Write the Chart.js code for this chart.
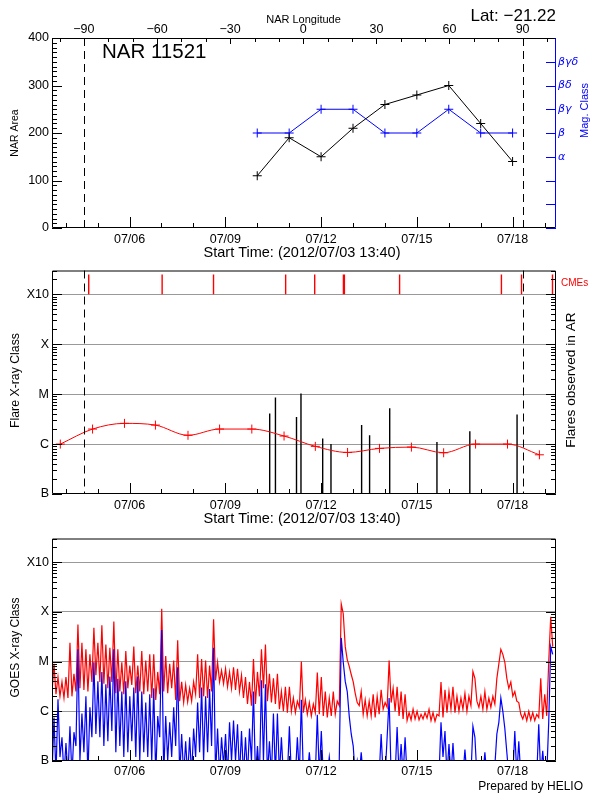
<!DOCTYPE html>
<html lang="en">
<head>
<meta charset="UTF-8">
<title>NAR 11521</title>
<script src="https://cdn.jsdelivr.net/npm/chart.js"></script>
<style>
  body { margin: 0; background: #fff; }
  #wrap { position: relative; width: 600px; height: 800px; }
  canvas { position: absolute; left: 0; }
</style>
</head>
<body>
<div id="wrap">
  <canvas id="narChart" width="600" height="262" style="top:0px"></canvas>
  <canvas id="flareChart" width="600" height="268" style="top:260px"></canvas>
  <canvas id="goesChart" width="600" height="272" style="top:528px"></canvas>
</div>
<script>
// time axis in days of July 2012 (UT)
const startDay = 3 + 13 / 24 + 40 / 1440;   // 2012/07/03 13:40
const endDay = 19.36;
const labelDays = [6, 9, 12, 15, 18];
const lonMin = -103.1, lonMax = 103.7;
const lonLabels = [-90, -60, -30, 0, 30, 60, 90];
const limbLon = [-90, 90];

// NOAA active region summary
const narDays = [10, 11, 12, 13, 14, 15, 16, 17, 18];
const narArea = [110, 190, 150, 210, 260, 280, 300, 220, 140];
const narMag = [4, 4, 5, 5, 4, 4, 5, 4, 4];
const magLabels = ['', '', '', 'α', 'β', 'βγ', 'βδ', 'βγδ', ''];

// flare classes (values in units of C = 1e-6 W/m2)
const classLevels = [1e-7, 1e-6, 1e-5, 1e-4, 1e-3];
const classNames = ['B', 'C', 'M', 'X', 'X10'];
const avgDays = [3.83, 4.84, 5.84, 6.81, 7.83, 8.82, 9.83, 10.84, 11.82, 12.83, 13.83, 14.83, 15.84, 16.84, 17.84, 18.84];
const avgClass = [1.0, 2.0, 2.6, 2.4, 1.5, 2.0, 2.0, 1.45, 0.9, 0.68, 0.82, 0.87, 0.67, 1.0, 1.0, 0.61];
const flareDays = [10.39, 10.57, 11.23, 11.37, 12.03, 12.05, 12.31, 13.27, 13.52, 14.15, 15.63, 16.66, 18.14];
const flarePeak = [4.1, 8.6, 3.5, 10.3, 0.13, 1.3, 1.0, 2.4, 1.5, 5.2, 1.1, 1.8, 3.9];
const cmeDays = [4.72, 7.02, 8.63, 10.89, 11.8, 12.7, 12.73, 14.46, 17.65, 18.28, 19.25];

// GOES X-ray flux, 1.5 h samples from startDay (units of C)
const goesStep = 1 / 16;
const goesLong = [
  2.3,9.0, 2.2,4.9, 2.0,3.9, 1.85,4.9, 1.85,24, 2.0,5.7, 2.5,56, 2.9,24, 2.7,17.7, 2.5,14,
  3.9,48, 5.3,24, 3.9,54, 3.6,22, 2.9,19, 3.9,64, 2.3,17.7, 2.5,9.7, 2.2,16.4, 2.9,8.3,
  3.4,20, 2.3,8.3, 2.5,16.4, 2.2,10.5, 2.5,14, 1.85,14, 1.7,6.2, 2.2,116, 2.5,13, 2.3,9.0,
  2.9,10.5, 1.7,27, 1.6,3.9, 1.5,3.4, 1.55,2.9, 1.6,3.9, 2.2,14, 1.85,11.3, 2.0,10.5, 1.85,8.3,
  2.5,71, 4.2,9.7, 3.9,6.6, 3.6,7.2, 3.1,6.2, 2.9,7.7, 2.7,7.2, 2.5,5.3, 1.85,4.9, 1.4,3.9,
  1.3,11.3, 1.4,6.2, 2.0,17.7, 2.9,22, 1.6,5.7, 1.5,4.6, 1.4,5.7, 1.1,2.5, 1.0,3.1, 0.94,3.1,
  1.0,1.85, 0.94,1.6, 1.2,10, 0.94,1.7, 0.87,1.5, 0.81,1.4, 0.94,6.0, 0.87,4.9, 0.81,2.5, 0.75,1.85,
  0.81,2.5, 0.87,1.6, 1.3,145, 92,20, 11,8.0, 5.5,3.9, 2.3,1.5, 1.3,2.5, 0.87,1.7, 0.81,1.6,
  0.81,2.2, 0.75,2.0, 0.87,2.7, 1.1,1.5, 1.2,10.5, 1.5,2.9, 1.0,3.1, 0.81,2.5, 0.7,2.2, 0.65,0.94,
  0.67,1.1, 0.7,1.0, 0.67,0.87, 0.7,0.94, 0.73,1.1, 0.65,0.94, 0.63,0.87, 0.81,3.9, 0.75,2.7, 0.94,2.5,
  1.1,3.1, 0.94,2.0, 1.0,1.85, 1.1,2.3, 1.0,2.0, 1.3,6.3, 4.6,1.6, 1.2,2.0, 1.1,2.5, 1.1,1.85,
  1.2,2.0, 1.4,4.6, 9.0,17.7, 14,9.7, 4.6,2.9, 3.9,2.0, 2.5,1.6, 1.5,0.87, 0.7,0.94, 0.65,1.0,
  0.67,0.94, 0.65,0.87, 0.75,4.6, 0.7,2.2, 0.81,9.7, 80,20
];
const goesShort = [
  0.05,0.75, 0.05,1.75, 0.12,0.3, 0.05,0.23, 0.05,0.5, 0.05,0.38, 0.2,17.7, 0.1,0.9, 0.15,2.0, 0.05,1.2,
  0.3,9.7, 0.35,4.0, 0.3,6.2, 0.2,3.5, 0.25,5.0, 0.4,17.7, 0.15,4.5, 0.2,2.5, 0.12,4.0, 0.15,2.0,
  0.25,3.0, 0.12,5.0, 0.1,2.5, 0.15,1.5, 0.12,2.2, 0.1,2.9, 0.05,0.8, 0.3,43, 0.05,0.8, 0.1,0.6,
  0.12,1.2, 0.2,7.7, 0.05,0.35, 0.05,0.25, 0.05,0.3, 0.05,0.45, 0.12,1.5, 0.15,3.0, 0.1,2.0, 0.15,2.8,
  0.2,19, 0.05,0.45, 0.05,0.3, 0.08,0.35, 0.05,0.6, 0.1,0.65, 0.1,0.55, 0.05,0.4, 0.05,0.3, 0.05,0.45,
  0.1,2.5, 0.05,0.2, 0.05,4.2, 0.1,3.5, 0.05,0.25, 0.05,0.9, 0.05,0.9, 0.05,0.3, 0.05,0.05, 0.05,0.5,
  0.05,0.05, 0.05,0.3, 0.05,1.7, 0.05,0.05, 0.05,0.15, 0.05,0.05, 0.05,0.85, 0.05,0.4, 0.05,0.05, 0.05,0.12,
  0.05,0.05, 0.05,0.05, 0.1,30, 9.7,4.0, 2.5,0.8, 0.35,0.2, 0.05,0.1, 0.05,0.15, 0.05,0.05, 0.05,0.05,
  0.05,0.05, 0.05,0.05, 0.05,0.35, 0.05,0.05, 0.3,1.85, 0.05,0.05, 0.05,0.48, 0.05,0.22, 0.05,0.3, 0.05,0.05,
  0.05,0.05, 0.05,0.05, 0.05,0.05, 0.05,0.05, 0.05,0.05, 0.05,0.05, 0.05,0.05, 0.05,0.6, 0.12,0.4, 0.05,0.22,
  0.05,0.23, 0.05,0.05, 0.05,0.05, 0.05,0.17, 0.05,0.05, 0.05,0.5, 0.3,0.05, 0.05,0.05, 0.05,0.15, 0.05,0.05,
  0.05,0.05, 0.08,0.35, 0.6,1.85, 1.0,0.45, 0.15,0.05, 0.05,0.05, 0.4,0.05, 0.25,0.05, 0.05,0.05, 0.05,0.05,
  0.05,0.05, 0.05,0.05, 0.55,0.05, 0.16,0.05, 0.05,0.6, 20,14
];

const C = 1e-6;
const F = "'Liberation Sans', Arial, sans-serif";
const tickFont = { family: F, size: 12.5 };
const red = '#ff0000', blue = '#0000ff';

const lonToDay = lon => startDay + (lon - lonMin) / (lonMax - lonMin) * (endDay - startDay);
const limbDays = limbLon.map(lonToDay);

// inward tick marks
const dayMarks = [];
for (let d = Math.ceil(startDay); d <= endDay; d++) dayMarks.push({ v: d, major: d % 3 === 0 });
const areaMarks = [];
for (let v = 0; v <= 400; v += 10) areaMarks.push({ v, major: v % 100 === 0 });
const lonMarks = [];
for (let v = -100; v <= 100; v += 10) lonMarks.push({ v, major: v % 30 === 0 });
const magMarks = [];
for (let v = 0; v <= 8; v++) magMarks.push({ v, major: true });
const logMarks = [];
for (let e = -7; e <= -3; e++) for (let m = 1; m <= 9; m++) if (m * Math.pow(10, e) <= 3e-3) logMarks.push({ v: m * Math.pow(10, e), major: m === 1 });

function decor(id, cfg) {
  return {
    id,
    afterDatasetsDraw(chart) {
      const ctx = chart.ctx, a = chart.chartArea;
      ctx.save();
      ctx.lineWidth = 1;
      if (cfg.limbs) {
        ctx.strokeStyle = '#000';
        ctx.setLineDash([8, 5]);
        cfg.limbs.forEach(d => {
          const x = Math.round(chart.scales.x.getPixelForValue(d)) + 0.5;
          ctx.beginPath(); ctx.moveTo(x, a.top); ctx.lineTo(x, a.bottom); ctx.stroke();
        });
        ctx.setLineDash([]);
      }
      (cfg.ticks || []).forEach(t => {
        const sc = chart.scales[t.scale];
        ctx.strokeStyle = t.color || '#000';
        ctx.beginPath();
        t.values.forEach(tv => {
          const len = tv.major ? t.len[0] : t.len[1];
          const p = Math.round(sc.getPixelForValue(tv.v)) + 0.5;
          if (t.edge === 'bottom' || t.edge === 'top') {
            if (p < a.left || p > a.right) return;
            const y0 = t.edge === 'bottom' ? a.bottom : a.top;
            ctx.moveTo(p, y0); ctx.lineTo(p, t.edge === 'bottom' ? y0 - len : y0 + len);
          } else {
            if (p < a.top - 1 || p > a.bottom + 1) return;
            const x0 = t.edge === 'left' ? a.left : a.right;
            ctx.moveTo(x0, p); ctx.lineTo(t.edge === 'left' ? x0 + len : x0 - len, p);
          }
        });
        ctx.stroke();
      });
      const f = cfg.frame || {};
      const L = a.left + 0.5, R = a.right - 0.5, T = a.top + 0.5, B = a.bottom - 0.5;
      [['top', L, T, R, T], ['bottom', L, B, R, B], ['left', L, T, L, B], ['right', R, T, R, B]].forEach(([s, x1, y1, x2, y2]) => {
        ctx.strokeStyle = f[s] || '#000';
        ctx.beginPath(); ctx.moveTo(x1, y1); ctx.lineTo(x2, y2); ctx.stroke();
      });
      ctx.restore();
    },
    afterDraw(chart) {
      const ctx = chart.ctx;
      (cfg.texts || []).forEach(t => {
        ctx.save();
        ctx.font = t.font;
        ctx.fillStyle = t.color || '#000';
        ctx.textAlign = t.align || 'left';
        ctx.textBaseline = t.baseline || 'alphabetic';
        ctx.translate(t.x, t.y);
        if (t.rotate) ctx.rotate(t.rotate * Math.PI / 180);
        ctx.fillText(t.text, 0, 0);
        ctx.restore();
      });
    }
  };
}

const noGrid = { display: false, drawTicks: false };

function timeScale(height, pad) {
  return {
    type: 'linear', position: 'bottom', min: startDay, max: endDay,
    afterFit: s => { s.height = height; },
    afterBuildTicks: s => { s.ticks = labelDays.map(v => ({ value: v })); },
    ticks: { callback: v => '07/' + String(v).padStart(2, '0'), font: tickFont, color: '#000', padding: pad, maxRotation: 0, autoSkip: false },
    grid: noGrid, border: { display: false }
  };
}

function classScale() {
  return {
    type: 'logarithmic', position: 'left', min: 1e-7, max: 3e-3,
    afterFit: s => { s.width = 52; },
    afterBuildTicks: s => { s.ticks = classLevels.map(v => ({ value: v })); },
    ticks: {
      callback: v => classNames[Math.round(Math.log10(v)) + 7],
      font: tickFont, color: '#000', padding: 3, autoSkip: false
    },
    grid: { color: c => (c.tick && c.tick.value > 2e-7) ? '#999999' : 'rgba(0,0,0,0)', drawTicks: false, lineWidth: 1 },
    border: { display: false }
  };
}

const base = {
  responsive: false, animation: false, devicePixelRatio: 1,
  plugins: { legend: { display: false }, tooltip: { enabled: false } },
  events: []
};

// ---- panel 1: NAR area and magnetic class ----
new Chart(document.getElementById('narChart'), {
  type: 'line',
  data: {
    datasets: [
      {
        data: narDays.map((d, i) => ({ x: d, y: narArea[i] })), yAxisID: 'y',
        borderColor: '#000', borderWidth: 1, pointStyle: 'cross', pointRadius: 4.5,
        pointBorderColor: '#000', pointBorderWidth: 1
      },
      {
        data: narDays.map((d, i) => ({ x: d, y: narMag[i] })), yAxisID: 'yMag',
        borderColor: blue, borderWidth: 1, pointStyle: 'cross', pointRadius: 4.5,
        pointBorderColor: blue, pointBorderWidth: 1
      }
    ]
  },
  options: {
    ...base,
    layout: { padding: 0 },
    scales: {
      x: timeScale(34, 4.5),
      lon: {
        type: 'linear', position: 'top', min: lonMin, max: lonMax,
        afterFit: s => { s.height = 38; },
        afterBuildTicks: s => { s.ticks = lonLabels.map(v => ({ value: v })); },
        ticks: { callback: v => (v < 0 ? '\u2212' + (-v) : String(v)), font: tickFont, color: '#000', padding: 0.5, maxRotation: 0, autoSkip: false },
        grid: noGrid, border: { display: false }
      },
      y: {
        type: 'linear', position: 'left', min: 0, max: 400,
        afterFit: s => { s.width = 52; },
        ticks: { stepSize: 100, font: tickFont, color: '#000', padding: 3 },
        grid: noGrid, border: { display: false }
      },
      yMag: {
        type: 'linear', position: 'right', min: 0, max: 8,
        afterFit: s => { s.width = 44; },
        ticks: { stepSize: 1, callback: v => magLabels[v], font: { family: "'DejaVu Sans', sans-serif", size: 11, style: 'italic' }, color: blue, padding: 2, autoSkip: false },
        grid: noGrid, border: { display: false }
      }
    }
  },
  plugins: [decor('decor1', {
    limbs: limbDays,
    frame: { right: blue },
    ticks: [
      { scale: 'x', edge: 'bottom', values: dayMarks, len: [11, 5] },
      { scale: 'lon', edge: 'top', values: lonMarks, len: [6, 4] },
      { scale: 'y', edge: 'left', values: areaMarks, len: [10, 5] },
      { scale: 'yMag', edge: 'right', values: magMarks, len: [10, 0], color: blue }
    ],
    texts: [
      { text: 'NAR 11521', x: 102, y: 57.5, font: `20.5px ${F}` },
      { text: 'Lat: \u221221.22', x: 556, y: 21, align: 'right', font: `17px ${F}` },
      { text: 'NAR Longitude', x: 303.5, y: 23, align: 'center', font: `11px ${F}` },
      { text: 'Mag. Class', x: 585, y: 110.5, align: 'center', baseline: 'middle', rotate: -90, font: `11px ${F}`, color: blue },
      { text: 'NAR Area', x: 15.5, y: 133, align: 'center', baseline: 'middle', rotate: -90, font: `10.5px ${F}` },
      { text: 'Start Time: (2012/07/03 13:40)', x: 302, y: 257, align: 'center', font: `14.5px ${F}` }
    ]
  })]
});

// ---- panel 2: flares in the region and CMEs ----
const flareStems = [];
flareDays.forEach((d, i) => flareStems.push({ x: d, y: 1e-7 }, { x: d, y: flarePeak[i] * C }, { x: d, y: null }));
const cmeStems = [];
cmeDays.forEach(d => cmeStems.push({ x: d, y: 1e-3 }, { x: d, y: 2.5e-3 }, { x: d, y: null }));

new Chart(document.getElementById('flareChart'), {
  type: 'line',
  data: {
    datasets: [
      {
        data: avgDays.map((d, i) => ({ x: d, y: avgClass[i] * C })),
        borderColor: red, borderWidth: 1, cubicInterpolationMode: 'monotone',
        pointStyle: 'cross', pointRadius: 4.5, pointBorderColor: red, pointBorderWidth: 1
      },
      { data: flareStems, borderColor: '#000', borderWidth: 1.4, pointRadius: 0 },
      { data: cmeStems, borderColor: red, borderWidth: 1.4, pointRadius: 0 }
    ]
  },
  options: {
    ...base,
    layout: { padding: { top: 6, right: 44, left: 0, bottom: 0 } },
    scales: { x: timeScale(34, 4.3), y: classScale() }
  },
  plugins: [decor('decor2', {
    limbs: limbDays,
    ticks: [
      { scale: 'x', edge: 'bottom', values: dayMarks, len: [11, 5] },
      { scale: 'y', edge: 'left', values: logMarks, len: [10, 5] },
      { scale: 'y', edge: 'right', values: logMarks, len: [10, 5] }
    ],
    texts: [
      { text: 'Flare X-ray Class', x: 15.5, y: 120.5, align: 'center', baseline: 'middle', rotate: -90, font: `12.3px ${F}` },
      { text: 'Flares observed in AR', x: 571.7, y: 120, align: 'center', baseline: 'middle', rotate: -90, font: `13.7px ${F}` },
      { text: 'CMEs', x: 561, y: 23, baseline: 'middle', font: `10px ${F}`, color: red },
      { text: 'Start Time: (2012/07/03 13:40)', x: 302, y: 263, align: 'center', font: `14.5px ${F}` }
    ]
  })]
});

// ---- panel 3: GOES X-ray flux ----
const goesTimes = goesLong.map((_, i) => startDay + i * goesStep);

new Chart(document.getElementById('goesChart'), {
  type: 'line',
  data: {
    datasets: [
      { data: goesShort.map((v, i) => ({ x: goesTimes[i], y: v * C })), borderColor: blue, borderWidth: 1.2, pointRadius: 0, clip: 0 },
      { data: goesLong.map((v, i) => ({ x: goesTimes[i], y: v * C })), borderColor: red, borderWidth: 1.2, pointRadius: 0, clip: 0 }
    ]
  },
  options: {
    ...base,
    layout: { padding: { top: 4, right: 44, left: 0, bottom: 0 } },
    scales: { x: timeScale(39, 3.5), y: classScale() }
  },
  plugins: [decor('decor3', {
    ticks: [
      { scale: 'x', edge: 'bottom', values: dayMarks, len: [11, 5] },
      { scale: 'y', edge: 'left', values: logMarks, len: [10, 5] },
      { scale: 'y', edge: 'right', values: logMarks, len: [10, 5] }
    ],
    texts: [
      { text: 'GOES X-ray Class', x: 15.5, y: 119.5, align: 'center', baseline: 'middle', rotate: -90, font: `12px ${F}` },
      { text: 'Prepared by HELIO', x: 583, y: 261.5, align: 'right', font: `12px ${F}` }
    ]
  })]
});
</script>
</body>
</html>
